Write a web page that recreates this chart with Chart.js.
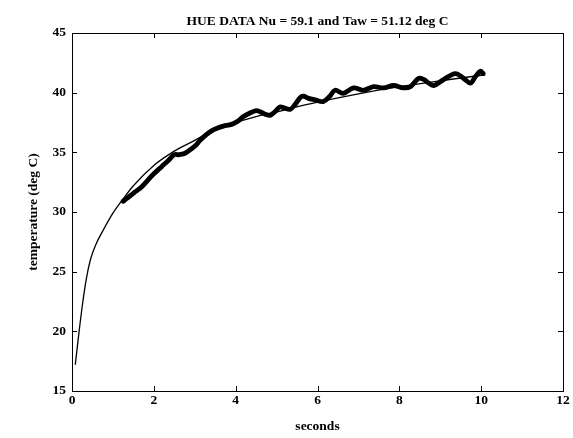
<!DOCTYPE html>
<html>
<head>
<meta charset="utf-8">
<script src="https://cdn.jsdelivr.net/npm/chart.js@4.4.1/dist/chart.umd.min.js"></script>
<style>
  html, body { margin: 0; padding: 0; background: #fff; }
  canvas { display: block; }
</style>
</head>
<body>
<canvas id="c" width="573" height="438"></canvas>
<script>
// Fitted surface-temperature curve (seconds, deg C)
const fitSeconds = [0.08, 0.15, 0.25, 0.35, 0.45, 0.6, 0.75, 1.0, 1.25, 1.5, 2.0, 2.5, 3.0, 3.5, 4.0, 4.5, 5.0, 6.0, 7.0, 8.0, 9.0, 10.1];
const fitTemp    = [17.2, 19.3, 22.1, 24.4, 26.0, 27.4, 28.4, 29.9, 31.1, 32.2, 33.9, 35.1, 36.0, 36.9, 37.5, 38.0, 38.4, 39.2, 39.9, 40.5, 41.0, 41.5];

// Measured hue-based temperature trace
const hueSeconds = [1.25, 1.4, 1.55, 1.7, 1.86, 2.0, 2.19, 2.35, 2.5, 2.62, 2.75, 2.88, 3.0, 3.13, 3.29, 3.41, 3.53, 3.7, 3.85, 3.94, 4.05, 4.19, 4.35, 4.5, 4.6, 4.72, 4.84, 4.96, 5.08, 5.2, 5.33, 5.45, 5.58, 5.66, 5.8, 5.94, 6.14, 6.3, 6.43, 6.63, 6.88, 7.12, 7.37, 7.61, 7.86, 8.1, 8.27, 8.47, 8.6, 8.68, 8.84, 9.08, 9.37, 9.57, 9.74, 9.86, 9.98, 10.05];
const hueTemp    = [30.9, 31.3, 31.7, 32.1, 32.7, 33.2, 33.8, 34.3, 34.8, 34.8, 34.9, 35.2, 35.5, 36.0, 36.5, 36.8, 37.0, 37.2, 37.3, 37.4, 37.6, 38.0, 38.3, 38.5, 38.4, 38.2, 38.1, 38.4, 38.8, 38.7, 38.6, 39.0, 39.6, 39.7, 39.5, 39.4, 39.25, 39.7, 40.2, 39.95, 40.4, 40.2, 40.5, 40.4, 40.6, 40.4, 40.5, 41.2, 41.1, 40.9, 40.6, 41.1, 41.6, 41.2, 40.8, 41.35, 41.8, 41.6];

// Axis ticks
const xTicks = [0, 2, 4, 6, 8, 10, 12];
const yTicks = [15, 20, 25, 30, 35, 40, 45];

const titleText = 'HUE DATA Nu = 59.1 and Taw = 51.12 deg C';
const xLabel = 'seconds';
const yLabel = 'temperature (deg C)';

const serif = '"Liberation Serif", "DejaVu Serif", serif';
const textSize = 13.5;

const toPoints = (xs, ys) => xs.map((x, i) => ({ x: x, y: ys[i] }));

// White page background
const paperPlugin = {
  id: 'paper',
  beforeDraw(chart) {
    const ctx = chart.ctx;
    ctx.save();
    ctx.fillStyle = '#fff';
    ctx.fillRect(0, 0, chart.width, chart.height);
    ctx.restore();
  }
};

// Box around the axes with inward tick marks on all four sides
const boxPlugin = {
  id: 'axesBox',
  afterDatasetsDraw(chart) {
    const { ctx, chartArea: a, scales } = chart;
    const len = 5;
    ctx.save();
    ctx.strokeStyle = '#000';
    ctx.lineWidth = 1;
    ctx.strokeRect(Math.round(a.left) + 0.5, Math.round(a.top) + 0.5,
                   Math.round(a.right - a.left), Math.round(a.bottom - a.top));
    ctx.beginPath();
    xTicks.forEach(v => {
      const px = Math.round(scales.x.getPixelForValue(v)) + 0.5;
      ctx.moveTo(px, a.bottom); ctx.lineTo(px, a.bottom - len);
      ctx.moveTo(px, a.top); ctx.lineTo(px, a.top + len);
    });
    yTicks.forEach(v => {
      const py = Math.round(scales.y.getPixelForValue(v)) + 0.5;
      ctx.moveTo(a.left, py); ctx.lineTo(a.left + len, py);
      ctx.moveTo(a.right, py); ctx.lineTo(a.right - len, py);
    });
    ctx.stroke();
    ctx.restore();
  }
};

new Chart(document.getElementById('c'), {
  type: 'line',
  data: {
    datasets: [
      {
        label: 'fit',
        data: toPoints(fitSeconds, fitTemp),
        borderColor: '#000',
        borderWidth: 1.3,
        pointRadius: 0,
        cubicInterpolationMode: 'monotone',
        fill: false,
        order: 2
      },
      {
        label: 'hue',
        data: toPoints(hueSeconds, hueTemp),
        borderColor: '#000',
        borderWidth: 4.8,
        borderJoinStyle: 'round',
        borderCapStyle: 'round',
        pointRadius: 0,
        tension: 0.35,
        fill: false,
        order: 1
      }
    ]
  },
  options: {
    responsive: false,
    animation: false,
    devicePixelRatio: 1,
    layout: { padding: { left: 0, right: 10, top: 0, bottom: 0 } },
    plugins: {
      legend: { display: false },
      tooltip: { enabled: false },
      title: {
        display: true,
        fullSize: false,
        text: titleText,
        color: '#000',
        font: { family: serif, size: textSize, weight: 'bold' },
        padding: { top: 13.4, bottom: 3.4 }
      }
    },
    scales: {
      x: {
        type: 'linear',
        min: 0,
        max: 12,
        afterBuildTicks(scale) { scale.ticks = xTicks.map(v => ({ value: v })); },
        afterFit(scale) { scale.height = 47; },
        grid: { display: false, drawTicks: false },
        border: { display: false },
        ticks: {
          color: '#000',
          padding: 1,
          maxRotation: 0,
          font: { family: serif, size: textSize, weight: 'bold' }
        },
        title: {
          display: true,
          text: xLabel,
          color: '#000',
          font: { family: serif, size: textSize, weight: 'bold' },
          padding: { top: 0, bottom: 3 }
        }
      },
      y: {
        type: 'linear',
        min: 15,
        max: 45,
        afterBuildTicks(scale) { scale.ticks = yTicks.map(v => ({ value: v })); },
        afterFit(scale) { scale.width = 72; },
        grid: { display: false, drawTicks: false },
        border: { display: false },
        ticks: {
          color: '#000',
          padding: 6,
          font: { family: serif, size: textSize, weight: 'bold' }
        },
        title: {
          display: true,
          text: yLabel,
          color: '#000',
          font: { family: serif, size: textSize, weight: 'bold' },
          padding: { top: 25, bottom: 0 }
        }
      }
    }
  },
  plugins: [paperPlugin, boxPlugin]
});
</script>
</body>
</html>
